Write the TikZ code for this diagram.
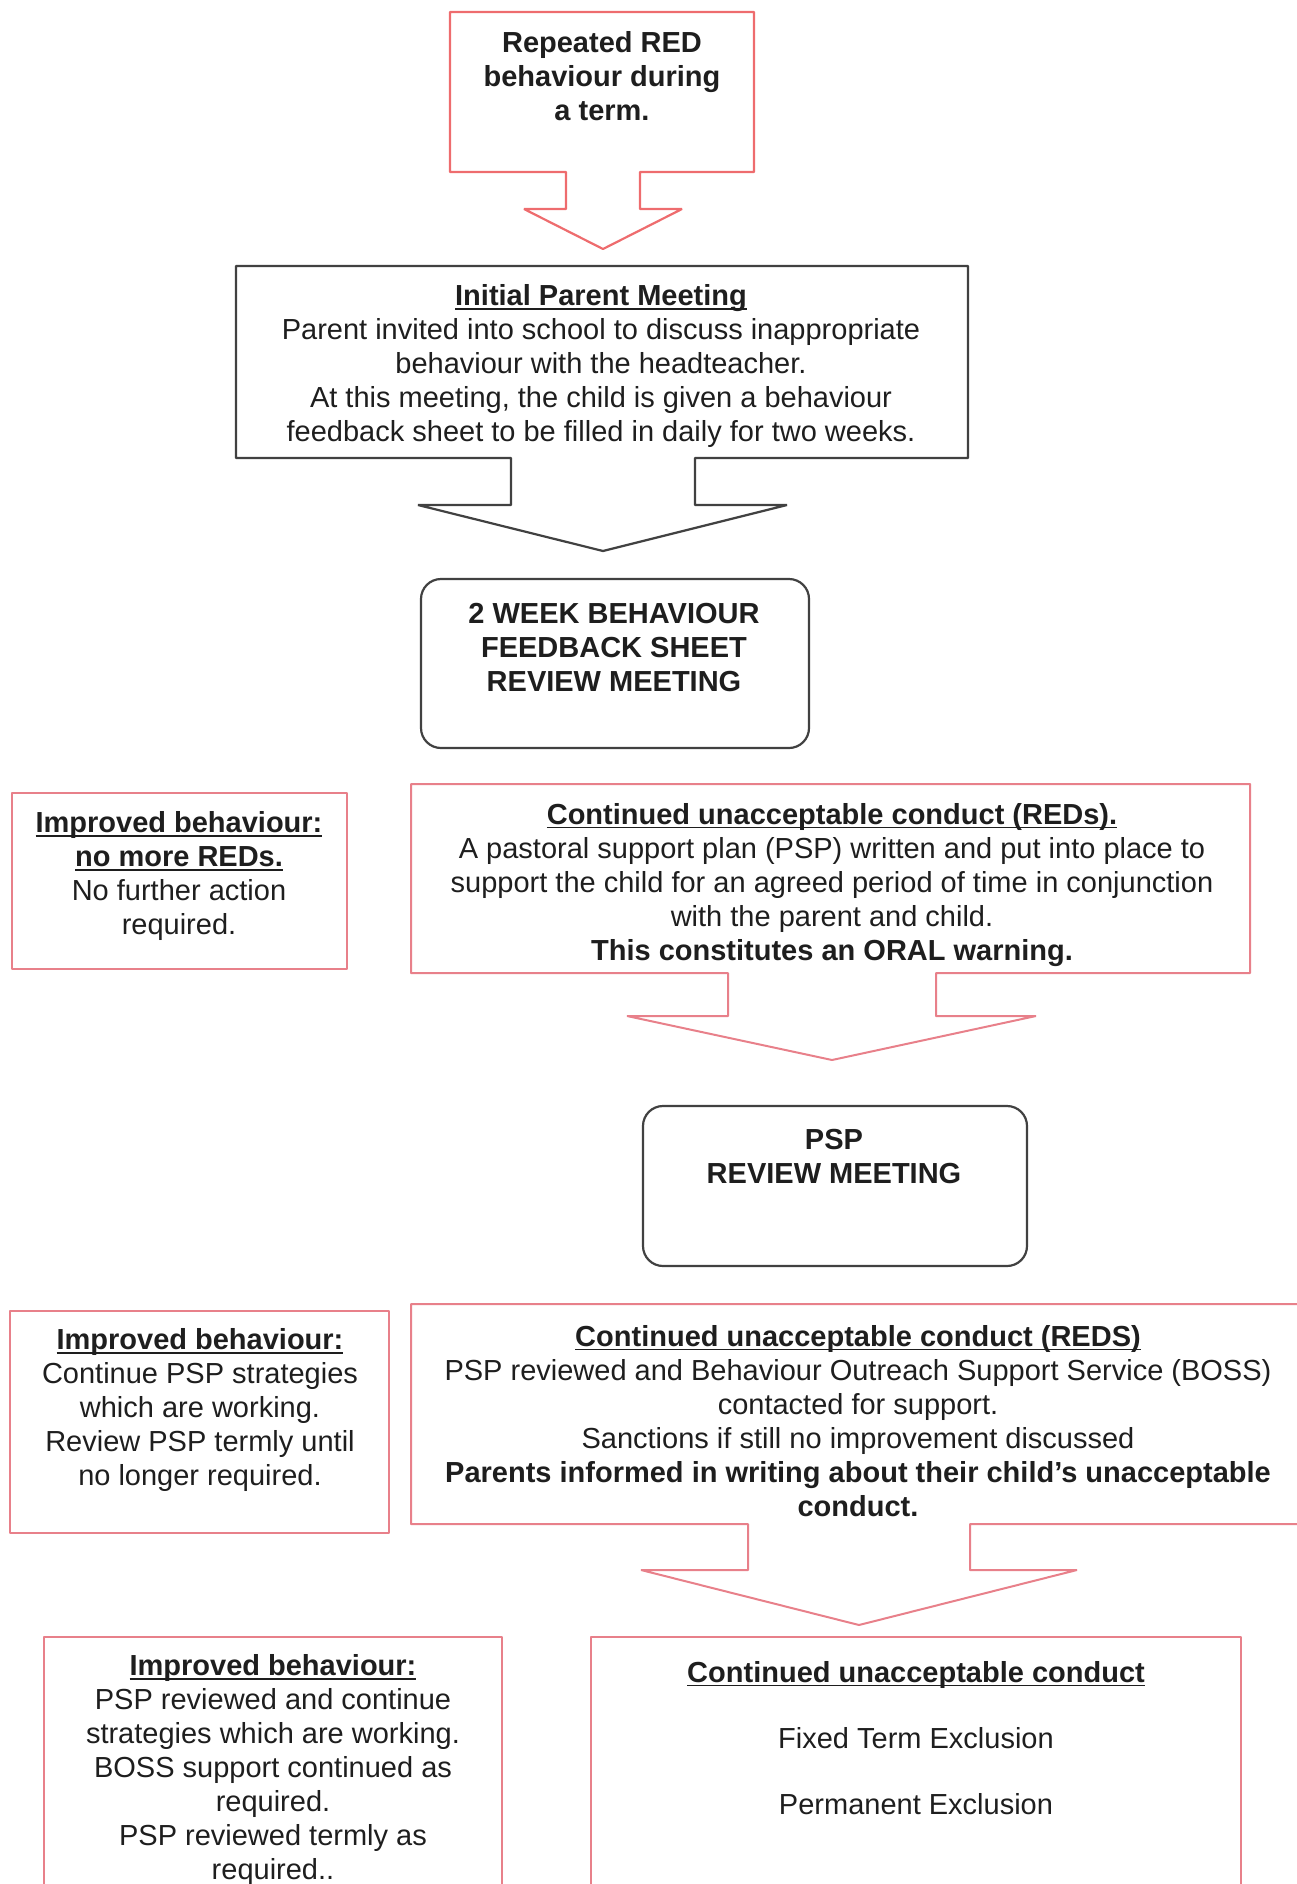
\documentclass[tikz,border=0pt]{standalone}
\usepackage{fontspec}
\setmainfont{Liberation Sans}
\definecolor{redline}{RGB}{238,108,110}
\definecolor{pinkline}{RGB}{232,128,138}
\definecolor{greyline}{RGB}{65,65,65}
\definecolor{inktext}{RGB}{30,30,30}
\newcommand{\heading}[1]{\setbox0\hbox{\textbf{#1}}\rlap{\rule[-4pt]{\wd0}{1.8pt}}\box0}

\begin{document}
\begin{tikzpicture}[x=1pt,y=-1pt,
  words/.style={align=center,text=inktext,inner sep=0pt,font=\fontsize{29}{34}\selectfont},
  boldwords/.style={words,font=\fontsize{29}{34}\selectfont\bfseries},
  redout/.style={draw=redline,line width=2.2pt,line join=bevel},
  pinkout/.style={draw=pinkline,line width=2pt,line join=bevel},
  greyout/.style={draw=greyline,line width=2.2pt,line join=bevel},
  meetbox/.style={greyout,rounded corners=20pt}]
\useasboundingbox (0,0) rectangle (1297,1884);
\clip (0,0) rectangle (1297,1884);

% start of the process
\draw[redout] (450,12) -- (754,12) -- (754,172) -- (640,172) -- (640,209) -- (682,209)
  -- (603,249) -- (524,209) -- (566,209) -- (566,172) -- (450,172) -- cycle;
\node[boldwords] (repeated) at (602,76) {Repeated RED\\behaviour during\\a term.};

% first meeting
\draw[greyout] (236,266) -- (968,266) -- (968,458) -- (695,458) -- (695,505) -- (787,505)
  -- (603,551) -- (418,505) -- (511,505) -- (511,458) -- (236,458) -- cycle;
\node[words] (initial) at (601,366) {\heading{Initial Parent Meeting}\\
  Parent invited into school to discuss inappropriate\\
  behaviour with the headteacher.\\
  At this meeting, the child is given a behaviour\\
  feedback sheet to be filled in daily for two weeks.};

\draw[meetbox] (421,579) rectangle (809,748);
\node[boldwords] (review) at (614,648) {2 WEEK BEHAVIOUR\\FEEDBACK SHEET\\REVIEW MEETING};

% outcome of the feedback sheet
\draw[pinkout] (12,793) rectangle (347,969);
\node[words] (improvedA) at (179,876) {\heading{Improved behaviour:}\\\heading{no more REDs.}\\
  No further action\\required.};

\draw[pinkout] (411,784) -- (1250,784) -- (1250,973) -- (936,973) -- (936,1016) -- (1036,1016)
  -- (832,1060) -- (627,1016) -- (728,1016) -- (728,973) -- (411,973) -- cycle;
\node[words] (continuedA) at (832,885) {\heading{Continued unacceptable conduct (REDs).}\\
  A pastoral support plan (PSP) written and put into place to\\
  support the child for an agreed period of time in conjunction\\
  with the parent and child.\\
  \textbf{This constitutes an ORAL warning.}};

\draw[meetbox] (643,1106) rectangle (1027,1266);
\node[boldwords] (pspreview) at (834,1157) {PSP\\REVIEW MEETING};

% outcome of the PSP review
\draw[pinkout] (10,1311) rectangle (389,1533);
\node[words] (improvedB) at (200,1410) {\heading{Improved behaviour:}\\
  Continue PSP strategies\\which are working.\\
  Review PSP termly until\\no longer required.};

\draw[pinkout] (411,1304) -- (1320,1304) -- (1320,1524) -- (970,1524) -- (970,1570) -- (1077,1570)
  -- (859,1625) -- (641,1570) -- (748,1570) -- (748,1524) -- (411,1524) -- cycle;
\node[words] (continuedB) at (858,1421) {\heading{Continued unacceptable conduct (REDS)}\\
  PSP reviewed and Behaviour Outreach Support Service (BOSS)\\
  contacted for support.\\
  Sanctions if still no improvement discussed\\
  \textbf{Parents informed in writing about their child's unacceptable}\\
  \textbf{conduct.}};

% final outcomes
\draw[pinkout] (44,1637) rectangle (502,1910);
\node[words] (improvedC) at (273,1770) {\heading{Improved behaviour:}\\
  PSP reviewed and continue\\strategies which are working.\\
  BOSS support continued as\\required.\\
  PSP reviewed termly as\\required..};

\draw[pinkout] (591,1637) rectangle (1241,1910);
\node[words] (exclusion) at (916,1738) {\heading{Continued unacceptable conduct}\\[32pt]
  Fixed Term Exclusion\\[32pt]Permanent Exclusion};
\end{tikzpicture}
\end{document}
